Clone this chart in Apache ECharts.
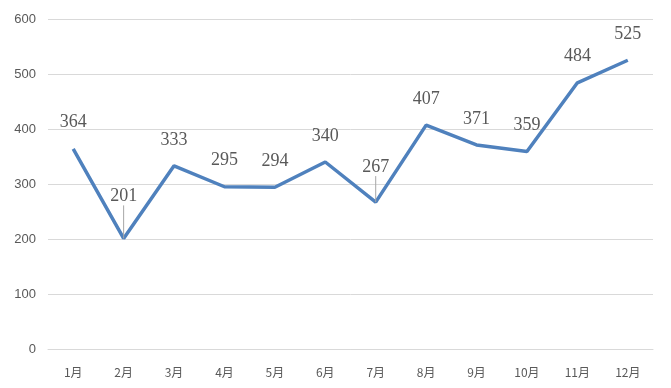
<!DOCTYPE html>
<html><head><meta charset="utf-8">
<script src="https://cdn.jsdelivr.net/npm/echarts@6/dist/echarts.min.js"></script>
<style>html,body{margin:0;padding:0;background:#fff}#c{width:671px;height:388px}</style>
</head><body><div id="c"></div>
<script>
var categories = ['1月','2月','3月','4月','5月','6月','7月','8月','9月','10月','11月','12月'];
var values = [364, 201, 333, 295, 294, 340, 267, 407, 371, 359, 484, 525];
var yTicks = [0, 100, 200, 300, 400, 500, 600];
var labelShift = {1: -16, 6: -9};

var seriesData = values.map(function (v, i) {
  return {value: v, labelLine: {show: labelShift[i] !== undefined}};
});

var chart = echarts.init(document.getElementById('c'));
chart.setOption({
  animation: false,
  backgroundColor: '#fff',
  grid: {left: 48, right: 18, top: 19, bottom: 39},
  xAxis: {
    type: 'category',
    data: categories,
    axisLine: {show: true, lineStyle: {color: '#d9d9d9', width: 1}},
    axisTick: {show: false},
    axisLabel: {color: '#595959', fontSize: 12, margin: 17, fontFamily: 'Noto Sans CJK SC'}
  },
  yAxis: {
    type: 'value',
    min: yTicks[0], max: yTicks[yTicks.length - 1], interval: 100,
    axisLine: {show: false},
    axisTick: {show: false},
    splitLine: {lineStyle: {color: '#d9d9d9', width: 1}},
    axisLabel: {color: '#595959', fontSize: 13, margin: 12, fontFamily: 'Liberation Sans'}
  },
  series: [{
    type: 'line',
    data: seriesData,
    showSymbol: true,
    symbol: 'circle',
    symbolSize: 0.1,
    itemStyle: {color: '#4f81bd'},
    lineStyle: {color: '#4f81bd', width: 3.5},
    label: {
      show: true, position: 'top', distance: 17,
      color: '#595959', fontSize: 18, fontFamily: 'Liberation Serif'
    },
    labelLine: {show: false, lineStyle: {color: '#a6a6a6', width: 1}},
    labelLayout: function (p) {
      var s = labelShift[p.dataIndex];
      return s ? {dy: s} : {};
    }
  }]
});
</script></body></html>
